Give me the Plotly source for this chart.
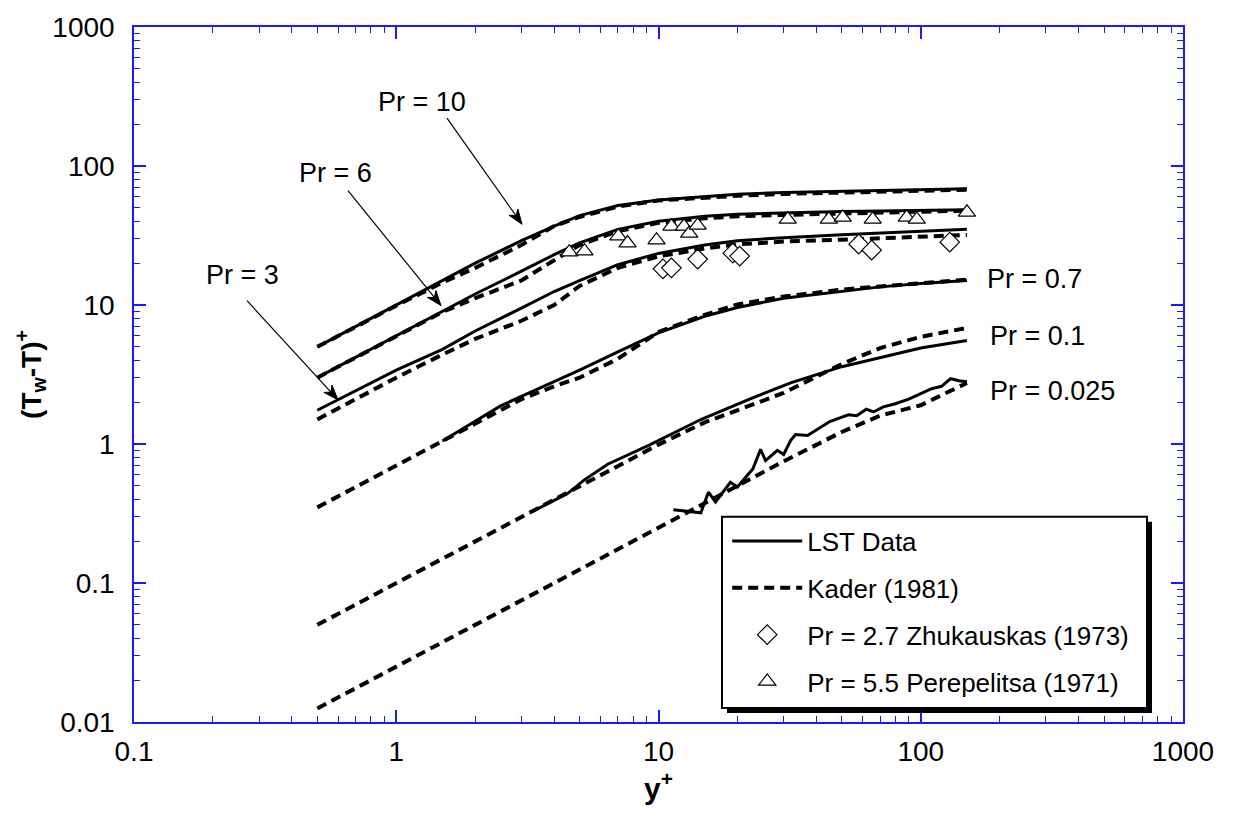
import math
import plotly.graph_objects as go

# ---- temperature profiles (T_w - T)+ versus y+ ----
yp_kader = [0.5, 0.7, 1, 1.5, 2, 3, 4, 5, 7, 10, 15, 20, 30, 50, 70, 100, 150]

kader_pr10 = [5.0, 7.0, 9.9, 14.5, 18.5, 27, 37, 43, 51, 56.5, 59.5, 61, 63, 64.5, 65.5, 66.5, 67.5]
kader_pr6 = [3.0, 4.2, 6.0, 8.9, 11.2, 15, 21, 27, 34, 39, 42, 43.5, 44.5, 45.5, 46.2, 47, 47.8]
kader_pr3 = [1.5, 2.1, 3.0, 4.4, 5.7, 7.7, 10, 13.7, 18.5, 22.4, 25.5, 27.3, 28.6, 29.5, 30.3, 31, 31.9]
kader_pr07 = [0.35, 0.49, 0.7, 1.05, 1.4, 2.1, 2.6, 3.0, 4.1, 6.4, 8.5, 10.1, 11.5, 12.9, 13.6, 14.4, 15.2]
kader_pr01 = [0.05, 0.07, 0.1, 0.15, 0.2, 0.3, 0.4, 0.5, 0.7, 0.99, 1.43, 1.75, 2.33, 3.76, 4.9, 5.9, 6.85]
kader_pr0025 = [0.0125, 0.0175, 0.025, 0.0375, 0.05, 0.075, 0.1, 0.125, 0.175, 0.25, 0.375, 0.5, 0.75, 1.22, 1.6, 1.9, 2.75]

yp_lst_hi = [0.5, 0.7, 1, 1.5, 2, 3, 4, 5, 7, 10, 15, 20, 30, 50, 70, 100, 150]
lst_pr10 = [5.0, 7.0, 10, 15, 20, 29, 37, 44, 52, 57, 60.5, 62.5, 64.5, 66, 67, 68, 68.5]
lst_pr6 = [3.0, 4.2, 6.0, 9.0, 12, 17.5, 23, 28, 35, 40, 43.5, 45, 46, 47, 47.5, 48, 48.5]
lst_pr3 = [1.75, 2.4, 3.4, 4.8, 6.5, 9.5, 12.5, 15, 19.5, 23.5, 27, 29, 30.5, 32, 33, 34, 35]

yp_lst_07 = [1.5, 2, 2.5, 3, 4, 5, 7, 10, 15, 20, 30, 50, 70, 100, 150]
lst_pr07 = [1.05, 1.45, 1.88, 2.2, 2.8, 3.4, 4.6, 6.3, 8.3, 9.6, 11.2, 12.6, 13.5, 14.3, 15.0]

yp_lst_01 = [3.4, 4.5, 5.2, 6.4, 9.3, 14.5, 21.9, 31.9, 50, 70, 100, 150]
lst_pr01 = [0.336, 0.44, 0.55, 0.715, 0.99, 1.5, 2.08, 2.75, 3.6, 4.2, 4.9, 5.55]

yp_lst_0025 = [11.4, 14.5, 15.5, 16.5, 18.8, 20.0, 21.9, 22.9, 24.5, 25.6, 28.4, 30.0, 31.9,
               33.3, 37, 41.5, 45, 49.5, 53, 57, 62, 66, 72, 80, 90, 100, 110, 120, 130, 140, 150]
lst_pr0025 = [0.336, 0.32, 0.45, 0.383, 0.53, 0.49, 0.60, 0.66, 0.915, 0.76, 0.90, 0.84, 1.06,
              1.17, 1.15, 1.31, 1.45, 1.55, 1.62, 1.6, 1.78, 1.7, 1.85, 1.95, 2.1, 2.3, 2.5, 2.6, 2.95, 2.85, 2.8]

# ---- experimental points ----
zhuk_yp = [10.4, 11.2, 14.1, 19.2, 20.4, 58.0, 65.0, 129]
zhuk_t = [18.2, 18.5, 21.4, 23.6, 22.5, 27.4, 24.8, 28.3]

perep_yp = [4.57, 5.22, 7.03, 7.62, 9.83, 11.2, 12.5, 13.1, 14.1, 31.1, 44.6, 50.4, 65.6, 88.4, 96.6, 150]
perep_t = [24.0, 24.4, 31.3, 27.9, 29.3, 36.8, 36.8, 32.8, 37.4, 41.3, 41.3, 42.7, 41.3, 42.7, 41.3, 46.4]

FONT = "Liberation Sans, Arial, sans-serif"
AXIS_BLUE = "#1a1aff"

# plot area in pixels (used to place the legend frame and the pointer arrows)
PL, PR, PT, PB = 134, 1183, 21, 722


def to_paper(px, py):
    return (px - PL) / (PR - PL), (PB - py) / (PB - PT)


fig = go.Figure()

lst_curves = [(yp_lst_hi, lst_pr10), (yp_lst_hi, lst_pr6), (yp_lst_hi, lst_pr3),
              (yp_lst_07, lst_pr07), (yp_lst_01, lst_pr01), (yp_lst_0025, lst_pr0025)]
kader_curves = [kader_pr10, kader_pr6, kader_pr3, kader_pr07, kader_pr01, kader_pr0025]

for i, ys in enumerate(kader_curves):
    fig.add_trace(go.Scatter(
        x=yp_kader, y=ys, mode="lines", name="Kader (1981)",
        line=dict(color="black", width=4, dash="10px,6px"),
        legendgroup="kader", legendrank=2, showlegend=(i == 0)))

for i, (xs, ys) in enumerate(lst_curves):
    fig.add_trace(go.Scatter(
        x=xs, y=ys, mode="lines", name="LST Data",
        line=dict(color="black", width=3),
        legendgroup="lst", legendrank=1, showlegend=(i == 0)))

fig.add_trace(go.Scatter(
    x=zhuk_yp, y=zhuk_t, mode="markers", name="Pr = 2.7 Zhukauskas (1973)",
    marker=dict(symbol="diamond", size=15, color="white", line=dict(color="black", width=1.2)),
    legendgroup="zh", legendrank=3))
fig.add_trace(go.Scatter(
    x=perep_yp, y=perep_t, mode="markers", name="Pr = 5.5 Perepelitsa (1971)",
    marker=dict(symbol="triangle-up", size=15, color="white", line=dict(color="black", width=1.2)),
    legendgroup="pe", legendrank=4))

# legend frame with drop shadow
sx0, sy0 = to_paper(727, 713)
sx1, sy1 = to_paper(1152, 520)
bx0, by0 = to_paper(722, 708)
bx1, by1 = to_paper(1147, 515)
fig.add_shape(type="rect", xref="paper", yref="paper", x0=sx0, x1=sx1, y0=sy0, y1=sy1,
              fillcolor="black", line=dict(width=0), layer="above")
fig.add_shape(type="rect", xref="paper", yref="paper", x0=bx0, x1=bx1, y0=by0, y1=by1,
              fillcolor="white", line=dict(color="black", width=2), layer="above")

# labels of the curves (positions in log10 units)
label_font = dict(family=FONT, size=27, color="black")
for txt, lx, ly, anchor in [("Pr = 10", 0.099, 2.458, "center"), ("Pr = 6", -0.233, 1.951, "center"),
                            ("Pr = 3", -0.588, 1.217, "center"),
                            ("Pr = 0.7", 2.244, 1.188, "left"), ("Pr = 0.1", 2.255, 0.775, "left"),
                            ("Pr = 0.025", 2.255, 0.382, "left")]:
    fig.add_annotation(x=lx, y=ly, xref="x", yref="y", text=txt, showarrow=False,
                       xanchor=anchor, yanchor="middle", font=label_font)

# pointer arrows from the labels to their curves: (tail px, tip px)
pointers = [((447, 113), (522, 220)), ((348, 186), (441, 302)), ((247, 297), (338, 397))]
for (tx, ty), (hx, hy) in pointers:
    dx, dy = hx - tx, hy - ty
    n = math.hypot(dx, dy)
    ux, uy = dx / n, dy / n
    L, W = 15, 5.5
    bx, by = hx - L * ux, hy - L * uy
    nx_, ny_ = -uy, ux
    p_tail = to_paper(tx, ty)
    p_neck = to_paper(hx - 0.7 * L * ux, hy - 0.7 * L * uy)
    fig.add_shape(type="line", xref="paper", yref="paper", x0=p_tail[0], y0=p_tail[1],
                  x1=p_neck[0], y1=p_neck[1], line=dict(color="black", width=1.2), layer="above")
    pts = [to_paper(hx, hy), to_paper(bx + W * nx_, by + W * ny_),
           to_paper(hx - 0.7 * L * ux, hy - 0.7 * L * uy), to_paper(bx - W * nx_, by - W * ny_)]
    path = "M " + " L ".join(f"{px:.5f},{py:.5f}" for px, py in pts) + " Z"
    fig.add_shape(type="path", xref="paper", yref="paper", path=path,
                  fillcolor="black", line=dict(color="black", width=1), layer="above")

major_x = [0.1, 1, 10, 100, 1000]
major_y = [0.01, 0.1, 1, 10, 100, 1000]
minor_x = [m * d for d in (0.1, 1, 10, 100) for m in range(2, 10)]
minor_y = [m * d for d in (0.01, 0.1, 1, 10, 100) for m in range(2, 10)]

common = dict(type="log", showline=True, linecolor=AXIS_BLUE, linewidth=1.5, mirror="ticks",
              ticks="inside", ticklen=12, tickwidth=1.5, tickcolor=AXIS_BLUE, showgrid=False,
              zeroline=False, tickfont=dict(family=FONT, size=28, color="black"))

fig.update_xaxes(range=[-1, 3], tickvals=major_x, ticktext=["0.1", "1", "10", "100", "1000"],
                 minor=dict(tickvals=minor_x, ticks="inside", ticklen=6, tickcolor=AXIS_BLUE, tickwidth=1.2),
                 ticklabelstandoff=4,
                 title=dict(text="y<sup>+</sup>", font=dict(family=FONT, size=30, color="black", weight="bold"),
                            standoff=10),
                 **common)
fig.update_yaxes(range=[-2, 3], tickvals=major_y, ticktext=["0.01", "0.1", "1", "10", "100", "1000"],
                 minor=dict(tickvals=minor_y, ticks="inside", ticklen=6, tickcolor=AXIS_BLUE, tickwidth=1.2),
                 ticklabelstandoff=12,
                 title=dict(text="(T<sub>w</sub>-T)<sup>+</sup>",
                            font=dict(family=FONT, size=28, color="black", weight="bold"), standoff=3),
                 **common)

fig.update_layout(
    width=1239, height=818,
    margin=dict(l=134, r=56, t=21, b=96),
    paper_bgcolor="white", plot_bgcolor="white",
    font=dict(family=FONT, color="black"),
    legend=dict(x=0.5655, y=0.294, xanchor="left", yanchor="top", bgcolor="rgba(0,0,0,0)",
                borderwidth=0, font=dict(family=FONT, size=26, color="black"),
                traceorder="grouped", tracegroupgap=10, itemwidth=70),
)

fig.write_html("out.html")
